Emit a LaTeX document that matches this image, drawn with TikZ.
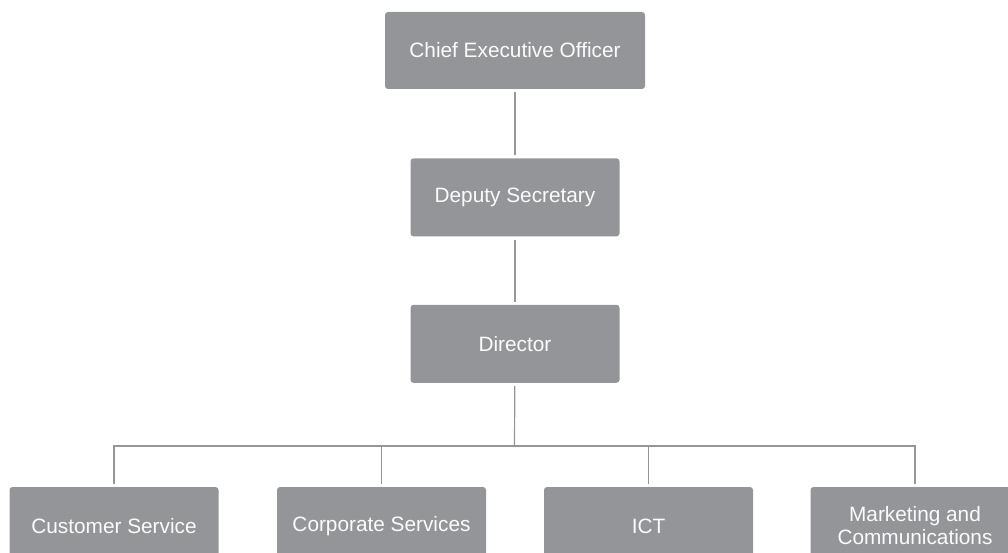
\documentclass[tikz,border=0pt]{standalone}
\usepackage{fontspec}
\setmainfont{Liberation Sans}
\usetikzlibrary{positioning}
\definecolor{boxgray}{HTML}{939598}
\definecolor{linegray}{HTML}{969696}

\begin{document}
\begin{tikzpicture}[x=1pt,y=1pt,node distance=69pt,
  unit node/.style={rectangle,rounded corners=3pt,fill=boxgray,text=white!96!boxgray,font=\fontsize{20.8}{23}\selectfont,minimum width=209pt,minimum height=78pt,align=center,inner sep=0pt},
  top node/.style={unit node,minimum width=260pt,minimum height=77pt},
  link/.style={draw=linegray,line width=1.2pt,shorten <=3pt,shorten >=3pt}]
\useasboundingbox (0,0) rectangle (1008,-553);
\clip (0,0) rectangle (1008,-553);
\node[top node] (ceo) at (515,-50.5) {Chief Executive Officer};
\node[unit node] (deputy) [below=of ceo] {Deputy Secretary};
\node[unit node] (director) [below=68pt of deputy] {Director};
\node[unit node] (customer) at (114,-526) {Customer Service};
\node[unit node] (corporate) at (381.5,-526) {Corporate Services};
\node[unit node] (ict) at (648.5,-526) {ICT};
\node[unit node] (marketing) at (915,-526) {Marketing and\\Communications};
\coordinate (bus) at (514.5,-446);

\path[link]
(ceo) edge (deputy)
(deputy) edge (director)
;
\draw[link,shorten >=0pt] (director) -- (bus);
\draw[link] (customer) |- (bus) -| (marketing);
\draw[link,shorten <=0pt] (corporate |- bus) -- (corporate);
\draw[link,shorten <=0pt] (ict |- bus) -- (ict);
\end{tikzpicture}
\end{document}
